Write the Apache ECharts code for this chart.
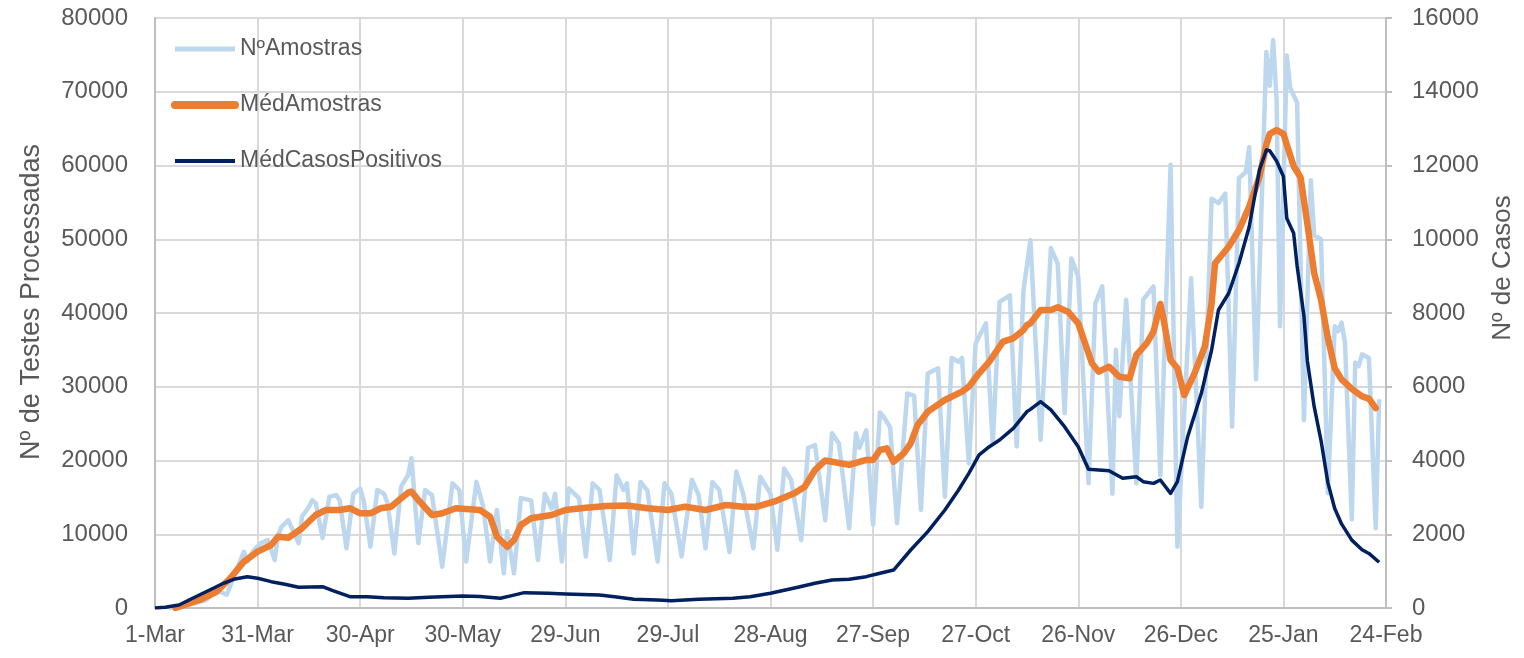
<!DOCTYPE html>
<html>
<head>
<meta charset="utf-8">
<script src="https://cdn.jsdelivr.net/npm/echarts@6/dist/echarts.min.js"></script>
<style>
html,body{margin:0;padding:0;background:#fff;overflow:hidden;}
#chart{width:1524px;height:658px;}
</style>
</head>
<body>
<div id="chart"></div>
<script>
// x tick labels (one every 30 days starting 1-Mar)
const xLabels = ['1-Mar','31-Mar','30-Apr','30-May','29-Jun','29-Jul','28-Aug','27-Sep','27-Oct','26-Nov','26-Dec','25-Jan','24-Feb'];
const leftTicks = [0,10000,20000,30000,40000,50000,60000,70000,80000];
const rightTicks = [0,2000,4000,6000,8000,10000,12000,14000,16000];

// [day since 1-Mar, value]
const nAmostras = [
[4,0],[8,300],[12,700],[15,1100],[18,2400],[21,1800],[23,4200],[26,7600],[27,6300],[29,7900],[31,8800],[33,9200],[35,6500],[36,9900],[37,11000],[39,11900],[42,8800],[43,12400],[45,13700],[46,14600],[47,14200],[49,9500],[51,15100],[53,15300],[54,14600],[56,8100],[58,15500],[60,16200],[61,14600],[63,8300],[65,16000],[67,15500],[68,14200],[70,7400],[72,16500],[74,18000],[75,20300],[77,8800],[79,16000],[81,15300],[84,5600],[87,16900],[89,16000],[91,6300],[94,17100],[96,13700],[98,6300],[100,13300],[102,4700],[103,10400],[105,4700],[107,14900],[110,14600],[112,6500],[114,15500],[116,13500],[117,15500],[119,6300],[121,16200],[124,14900],[126,7000],[128,16900],[130,16000],[133,6500],[135,18000],[137,16000],[138,16900],[140,7400],[142,17100],[144,15900],[147,6300],[149,16900],[151,15500],[154,7000],[157,17400],[159,15300],[161,8100],[163,17100],[165,16000],[168,7600],[170,18500],[172,15500],[175,8100],[177,17800],[180,15500],[182,7900],[184,18900],[186,17400],[189,9200],[191,21700],[193,22100],[196,11900],[198,23700],[200,22300],[203,10800],[205,23700],[206,21700],[208,24100],[210,11300],[212,26500],[213,26000],[215,24500],[217,11500],[220,29100],[222,28800],[224,13300],[226,31800],[229,32500],[231,15100],[233,33900],[235,33400],[236,33900],[238,19600],[240,35900],[243,38600],[245,22300],[247,41500],[250,42400],[252,21900],[254,43100],[256,49900],[259,22800],[262,48800],[264,46700],[266,26400],[268,47400],[270,44900],[273,16900],[275,41300],[277,43600],[280,15500],[281,35000],[282,26000],[284,41800],[287,16900],[289,41800],[292,43600],[294,18000],[297,60100],[299,8300],[303,44700],[306,13700],[309,55500],[311,54900],[313,56200],[315,24600],[317,58300],[319,59100],[320,62500],[322,31000],[324,60200],[325,75400],[326,70800],[327,77000],[328,69000],[329,38200],[331,74900],[332,70500],[334,68500],[336,25500],[338,58000],[339,50500],[341,50000],[343,15600],[345,38200],[346,37500],[347,38700],[348,36000],[350,12000],[351,33300],[352,32800],[353,34400],[355,33900],[357,10800],[358,28300]
];

const medAmostras = [
[6,0],[13,1085],[18,2210],[22,4030],[26,6280],[30,7640],[34,8540],[36,9670],[39,9520],[43,10810],[47,12610],[50,13290],[54,13290],[57,13520],[60,12840],[63,12840],[66,13520],[69,13740],[72,14870],[74,15640],[75,15770],[77,14650],[81,12610],[84,12840],[88,13520],[95,13290],[98,12380],[100,9670],[103,8310],[105,9220],[107,11250],[110,12160],[116,12610],[120,13290],[126,13600],[132,13830],[138,13900],[144,13520],[150,13290],[155,13740],[161,13290],[167,13970],[172,13740],[176,13740],[181,14420],[187,15550],[190,16450],[193,18710],[196,20000],[203,19400],[208,20070],[210,20070],[212,21420],[214,21650],[216,19840],[219,20980],[221,22330],[223,24820],[226,26620],[231,28200],[236,29330],[238,30010],[241,31820],[244,33400],[248,36110],[251,36570],[254,37700],[255,38370],[256,38600],[259,40410],[262,40410],[264,40770],[267,40180],[270,38600],[272,35890],[274,33180],[276,32040],[279,32720],[282,31360],[285,31150],[287,34310],[290,35890],[292,37470],[294,41220],[295,39050],[297,33630],[299,32500],[301,28880],[304,31820],[307,35430],[309,41320],[310,46740],[314,48990],[317,51260],[320,54420],[323,58500],[325,62800],[326,64300],[328,64800],[330,64300],[331,62800],[333,59900],[335,58400],[337,52100],[339,45400],[341,41800],[343,36600],[345,32500],[347,31000],[350,29700],[353,28700],[355,28400],[357,27100]
];

const medCasos = [
[0,0],[3,20],[7,80],[11,263],[16,488],[20,670],[23,778],[27,849],[30,805],[34,714],[38,642],[42,561],[49,578],[52,470],[57,307],[62,307],[67,280],[74,263],[80,290],[90,325],[95,310],[101,263],[104,330],[108,416],[115,400],[120,380],[130,350],[135,300],[140,235],[147,217],[151,198],[159,236],[169,263],[174,307],[180,398],[188,561],[193,670],[198,759],[203,778],[208,850],[212,941],[216,1030],[221,1573],[226,2070],[231,2658],[235,3200],[238,3652],[241,4150],[244,4375],[247,4556],[251,4873],[255,5324],[256,5388],[259,5595],[262,5370],[266,4917],[270,4375],[273,3761],[276,3743],[279,3720],[283,3517],[287,3560],[289,3426],[292,3380],[294,3470],[297,3110],[299,3426],[302,4646],[306,5822],[309,6997],[311,8082],[314,8535],[317,9350],[320,10340],[323,11880],[325,12420],[326,12400],[328,12120],[330,11700],[331,10560],[333,10160],[334,9280],[336,7920],[337,6700],[339,5460],[341,4540],[343,3400],[345,2700],[347,2280],[350,1840],[353,1580],[355,1480],[358,1240]
];

const FONT = 'Liberation Sans, Arial, sans-serif';
const TXT = '#595959';
const plain = function(v){ return String(v); };
const chart = echarts.init(document.getElementById('chart'), null, {renderer:'canvas', width:1524, height:658});
chart.setOption({
  animation: false,
  backgroundColor: '#ffffff',
  textStyle: {fontFamily: FONT},
  grid: {left:155, right:136, top:18, bottom:50, containLabel:false},
  legend: {
    orient:'vertical', left:171, top:35, itemWidth:60, itemHeight:2, itemGap:28,
    padding:0,
    itemStyle:{opacity:0, borderWidth:0},
    textStyle:{fontSize:23, color:TXT, fontFamily:FONT, lineHeight:28},
    data:[
      {name:'NºAmostras', lineStyle:{width:5, color:'#BDD7EE'}},
      {name:'MédAmostras', lineStyle:{width:8, color:'#ED7D31', cap:'round'}},
      {name:'MédCasosPositivos', lineStyle:{width:4, color:'#002060'}}
    ]
  },
  xAxis: {
    type:'value', min:0, max:360, interval:30,
    axisLine:{show:true, lineStyle:{color:'#BFBFBF', width:2}},
    axisTick:{show:false},
    splitLine:{show:true, lineStyle:{color:'#D9D9D9', width:2}},
    axisLabel:{color:TXT, fontSize:23, margin:16, fontFamily:FONT,
      formatter:function(v){ const i=Math.round(v/30); return xLabels[i]||''; }}
  },
  yAxis: [
    {
      type:'value', min:leftTicks[0], max:leftTicks[leftTicks.length-1], interval:10000,
      axisLine:{show:true, lineStyle:{color:'#BFBFBF', width:2}},
      axisTick:{show:false},
      splitLine:{show:true, lineStyle:{color:'#D9D9D9', width:2}},
      axisLabel:{color:TXT, fontSize:24, margin:27, fontFamily:FONT, formatter:plain},
      name:'Nº de Testes Processadas', nameLocation:'middle', nameGap:110, nameRotate:90,
      nameTextStyle:{color:TXT, fontSize:27, fontFamily:FONT, padding:[0,0,0,22]}
    },
    {
      type:'value', min:rightTicks[0], max:rightTicks[rightTicks.length-1], interval:2000, position:'right',
      axisLine:{show:true, lineStyle:{color:'#BFBFBF', width:2}},
      axisTick:{show:true, inside:false, length:6, lineStyle:{color:'#BFBFBF', width:2}},
      splitLine:{show:false},
      axisLabel:{color:TXT, fontSize:24, margin:26, fontFamily:FONT, formatter:plain},
      name:'Nº de Casos', nameLocation:'middle', nameGap:104, nameRotate:90,
      nameTextStyle:{color:TXT, fontSize:26, fontFamily:FONT, padding:[0,0,0,90]}
    }
  ],
  series: [
    {name:'NºAmostras', type:'line', data:nAmostras, yAxisIndex:0, symbol:'none', showSymbol:false,
      lineStyle:{color:'#BDD7EE', width:4.5, join:'round'}, itemStyle:{color:'#BDD7EE'}, z:1},
    {name:'MédAmostras', type:'line', data:medAmostras, yAxisIndex:0, symbol:'none', showSymbol:false,
      lineStyle:{color:'#ED7D31', width:6.5, join:'round', cap:'round'}, itemStyle:{color:'#ED7D31'}, z:2},
    {name:'MédCasosPositivos', type:'line', data:medCasos, yAxisIndex:1, symbol:'none', showSymbol:false,
      lineStyle:{color:'#002060', width:3.5, join:'round'}, itemStyle:{color:'#002060'}, z:3}
  ]
});
</script>
</body>
</html>
